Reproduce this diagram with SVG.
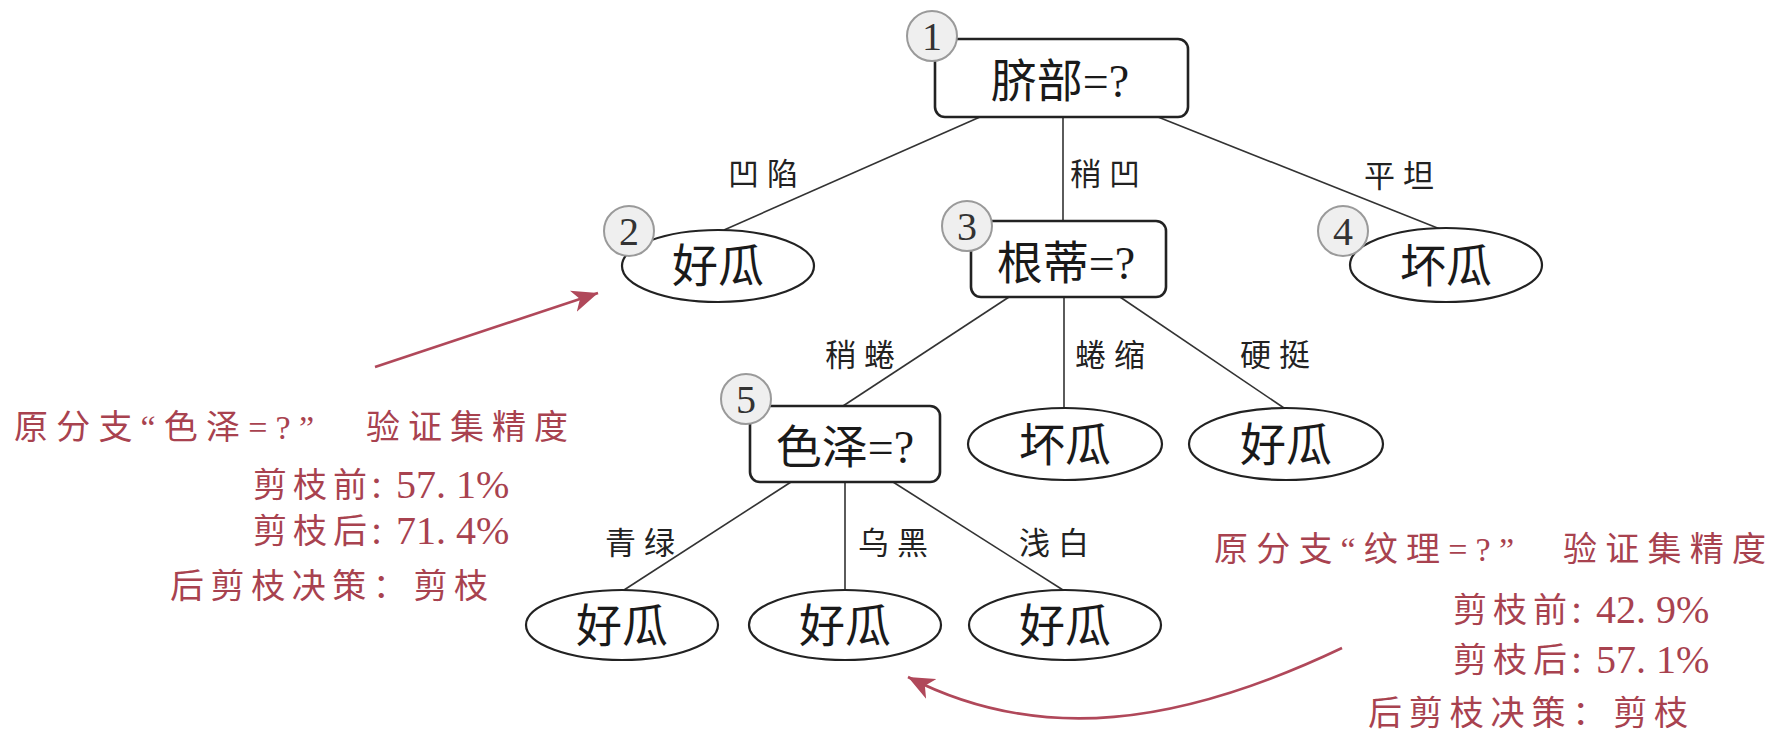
<svg xmlns="http://www.w3.org/2000/svg" width="1780" height="754" viewBox="0 0 1780 754">
<defs>
<style>
.box{fill:#fff;stroke:#222;stroke-width:2.6}
.leaf{fill:#fff;stroke:#222;stroke-width:2.2}
.num{fill:#efefef;stroke:#9a9a9a;stroke-width:2}
.numt{font-family:"Liberation Serif",serif;font-size:40px;fill:#333;text-anchor:middle}
.lbl{font-family:"Liberation Serif","Noto Sans CJK SC",serif;font-size:46px;fill:#1a1a1a;text-anchor:middle}
.edge{stroke:#333;stroke-width:1.6;fill:none}
.el{font-family:"Noto Sans CJK SC",sans-serif;font-size:31px;fill:#222;text-anchor:middle;letter-spacing:8px}
.red{stroke:#b0485a;stroke-width:2.6;fill:none}
.rt{font-family:"Liberation Serif","Noto Sans CJK SC",serif;font-size:34px;fill:#a8424f}
.dg{font-family:"Liberation Serif",serif;font-size:40px;fill:#a8424f}
</style>
<marker id="ah" markerUnits="userSpaceOnUse" markerWidth="30" markerHeight="24" refX="26" refY="12" orient="auto">
<path d="M0,1 L26,12 L0,23 L7,12 Z" fill="#b0485a"/>
</marker>
</defs>
<rect width="1780" height="754" fill="#fff"/>

<g id="connectors">
<line class="edge" x1="980" y1="117" x2="724" y2="230"/>
<line class="edge" x1="1063" y1="117" x2="1063" y2="221"/>
<line class="edge" x1="1158" y1="117" x2="1440" y2="229"/>
<line class="edge" x1="1009" y1="297" x2="843" y2="406"/>
<line class="edge" x1="1064" y1="297" x2="1064" y2="408"/>
<line class="edge" x1="1120" y1="297" x2="1284" y2="408"/>
<line class="edge" x1="791" y1="482" x2="624" y2="590"/>
<line class="edge" x1="845" y1="482" x2="845" y2="590"/>
<line class="edge" x1="893" y1="482" x2="1063" y2="590"/>
<text class="el" x="767" y="185">凹陷</text>
<text class="el" x="1109" y="185">稍凹</text>
<text class="el" x="1403" y="187">平坦</text>
<text class="el" x="864" y="366">稍蜷</text>
<text class="el" x="1114" y="366">蜷缩</text>
<text class="el" x="1279" y="366">硬挺</text>
<text class="el" x="644" y="554">青绿</text>
<text class="el" x="897" y="554">乌黑</text>
<text class="el" x="1058" y="554">浅白</text>
</g>

<g id="node1">
<rect class="box" x="935" y="39" width="253" height="78" rx="10"/>
<text class="lbl" x="1060" y="97">脐部=?</text>
<circle class="num" cx="932" cy="36" r="25"/>
<text class="numt" x="932" y="50">1</text>
</g>
<g id="node2">
<ellipse class="leaf" cx="718" cy="266" rx="96" ry="36"/>
<text class="lbl" x="718" y="282">好瓜</text>
<circle class="num" cx="629" cy="231" r="25"/>
<text class="numt" x="629" y="245">2</text>
</g>
<g id="node3">
<rect class="box" x="971" y="221" width="195" height="76" rx="10"/>
<text class="lbl" x="1066" y="279">根蒂=?</text>
<circle class="num" cx="967" cy="226" r="25"/>
<text class="numt" x="967" y="240">3</text>
</g>
<g id="node4">
<ellipse class="leaf" cx="1446" cy="265" rx="96" ry="37"/>
<text class="lbl" x="1446" y="282">坏瓜</text>
<circle class="num" cx="1343" cy="231" r="25"/>
<text class="numt" x="1343" y="245">4</text>
</g>
<g id="node5">
<rect class="box" x="750" y="406" width="190" height="76" rx="10"/>
<text class="lbl" x="845" y="463">色泽=?</text>
<circle class="num" cx="746" cy="399" r="25"/>
<text class="numt" x="746" y="413">5</text>
</g>
<g id="node6">
<ellipse class="leaf" cx="1065" cy="444" rx="97" ry="36"/>
<text class="lbl" x="1065" y="461">坏瓜</text>
</g>
<g id="node7">
<ellipse class="leaf" cx="1286" cy="444" rx="97" ry="36"/>
<text class="lbl" x="1286" y="461">好瓜</text>
</g>
<g id="node8">
<ellipse class="leaf" cx="622" cy="625" rx="96" ry="35"/>
<text class="lbl" x="622" y="642">好瓜</text>
</g>
<g id="node9">
<ellipse class="leaf" cx="845" cy="625" rx="96" ry="35"/>
<text class="lbl" x="845" y="642">好瓜</text>
</g>
<g id="node10">
<ellipse class="leaf" cx="1065" cy="625" rx="96" ry="35"/>
<text class="lbl" x="1065" y="642">好瓜</text>
</g>

<g id="annotations">
<line class="red" x1="375" y1="367" x2="598" y2="293" marker-end="url(#ah)"/>
<path class="red" d="M1342,648 C1180,725 1040,745 908,677" marker-end="url(#ah)"/>
<text class="rt" x="14" y="439" textLength="300" lengthAdjust="spacing">原分支“色泽=?”</text>
<text class="rt" x="366" y="439" textLength="202" lengthAdjust="spacing">验证集精度</text>
<text class="rt" x="253 293 333" y="497">剪枝前</text>
<text class="dg" x="371" y="498">:</text>
<text class="dg" x="396" y="498">57. 1%</text>
<text class="rt" x="253 293 333" y="543">剪枝后</text>
<text class="dg" x="371" y="544">:</text>
<text class="dg" x="396" y="544">71. 4%</text>
<text class="rt" x="170" y="598" textLength="318" lengthAdjust="spacing">后剪枝决策：剪枝</text>
<text class="rt" x="1214" y="561" textLength="300" lengthAdjust="spacing">原分支“纹理=?”</text>
<text class="rt" x="1563" y="561" textLength="203" lengthAdjust="spacing">验证集精度</text>
<text class="rt" x="1453 1493 1533" y="622">剪枝前</text>
<text class="dg" x="1571" y="623">:</text>
<text class="dg" x="1596" y="623">42. 9%</text>
<text class="rt" x="1453 1493 1533" y="672">剪枝后</text>
<text class="dg" x="1571" y="673">:</text>
<text class="dg" x="1596" y="673">57. 1%</text>
<text class="rt" x="1368" y="725" textLength="320" lengthAdjust="spacing">后剪枝决策：剪枝</text>
</g>
</svg>
